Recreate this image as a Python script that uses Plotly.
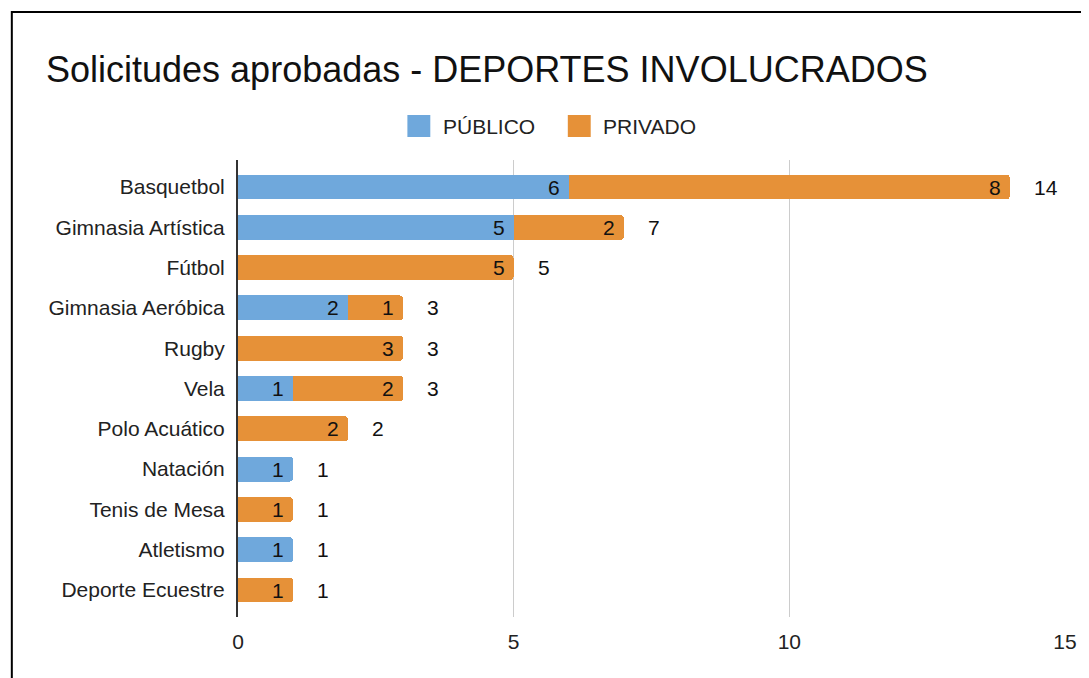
import plotly.graph_objects as go

categories = ["Basquetbol", "Gimnasia Artística", "Fútbol", "Gimnasia Aeróbica", "Rugby",
              "Vela", "Polo Acuático", "Natación", "Tenis de Mesa", "Atletismo", "Deporte Ecuestre"]
publico = [6, 5, 0, 2, 0, 1, 0, 1, 0, 1, 0]
privado = [8, 2, 5, 1, 3, 2, 2, 0, 1, 0, 1]
series_names = ["PÚBLICO", "PRIVADO"]
x_ticks = [0, 5, 10, 15]

BLUE = "#6FA8DC"
ORANGE = "#E69138"
FONT = "Liberation Sans, Arial, sans-serif"
TXT = "#111111"
FS = 21

fig = go.Figure()
fig.add_trace(go.Bar(
    y=categories, x=publico, name=series_names[0], orientation="h",
    marker=dict(color=BLUE, line=dict(width=0)), showlegend=False,
))
fig.add_trace(go.Bar(
    y=categories, x=privado, name=series_names[1], orientation="h",
    marker=dict(color=ORANGE, line=dict(width=0)), showlegend=False,
))

# segment labels (inside, right-aligned at segment end)
for cat, a, b in zip(categories, publico, privado):
    if a > 0:
        fig.add_annotation(x=a, y=cat, text=str(a), showarrow=False,
                           xanchor="right", xshift=-7,
                           font=dict(family=FONT, size=FS, color=TXT))
    if b > 0:
        fig.add_annotation(x=a + b, y=cat, text=str(b), showarrow=False,
                           xanchor="right", xshift=-7,
                           font=dict(family=FONT, size=FS, color=TXT))

# totals
totals = [a + b for a, b in zip(publico, privado)]
for cat, tot in zip(categories, totals):
    fig.add_annotation(x=tot, y=cat, text=str(tot), showarrow=False,
                       xanchor="left", xshift=22,
                       font=dict(family=FONT, size=FS, color=TXT))

# page body has an 8px margin: figure coords = screen - 8
OFF = 8
W, H = 1081, 670
ml, mr, mt, mb = 230, 21, 152, 61
pw, ph = W - ml - mr, H - mt - mb

def px_x(p):
    return (p - OFF - ml) / pw

def px_y(p):
    return (H - mb - (p - OFF)) / ph

# outer frame
fig.add_shape(type="rect", xref="paper", yref="paper",
              x0=px_x(11), x1=px_x(1300), y0=px_y(900), y1=px_y(12),
              line=dict(color="black", width=2), fillcolor="rgba(0,0,0,0)", layer="above")

# legend (swatches + labels)
legend_items = [(series_names[0], BLUE, 408, 442), (series_names[1], ORANGE, 569, 602)]
for name, col, sx, tx in legend_items:
    fig.add_shape(type="rect", xref="paper", yref="paper",
                  x0=px_x(sx), x1=px_x(sx + 23), y0=px_y(137), y1=px_y(115),
                  line=dict(width=0), fillcolor=col, layer="above")
    fig.add_annotation(xref="paper", yref="paper", x=px_x(tx), y=px_y(126),
                       text=name, showarrow=False, xanchor="left", yanchor="middle",
                       font=dict(family=FONT, size=FS, color="#222222"))

n = len(categories)
fig.update_layout(
    width=W, height=H,
    margin=dict(l=ml, r=mr, t=mt, b=mb),
    barmode="stack", bargap=0.38, barcornerradius=4,
    paper_bgcolor="white", plot_bgcolor="white",
    font=dict(family=FONT, size=FS, color="#222222"),
    showlegend=False,
    title=dict(text="Solicitudes aprobadas - DEPORTES INVOLUCRADOS",
               x=(46 - OFF) / W, xanchor="left", xref="container",
               y=1 - (69 - OFF) / H, yanchor="middle", yref="container",
               font=dict(family=FONT, size=36, color="#111111")),
    xaxis=dict(range=[0, 15], tickvals=x_ticks, showgrid=True, gridcolor="#CCCCCC",
               gridwidth=1, zeroline=False, showline=False, ticks="",
               ticklabelstandoff=10,
               tickfont=dict(family=FONT, size=FS, color="#222222")),
    yaxis=dict(categoryorder="array", categoryarray=categories,
               range=[n - 1 + 0.67, -0.67],
               showline=True, linecolor="#333333", linewidth=2, ticks="",
               ticklabelstandoff=7, showgrid=False,
               tickfont=dict(family=FONT, size=FS, color="#222222")),
)

fig.write_html("out.html")
